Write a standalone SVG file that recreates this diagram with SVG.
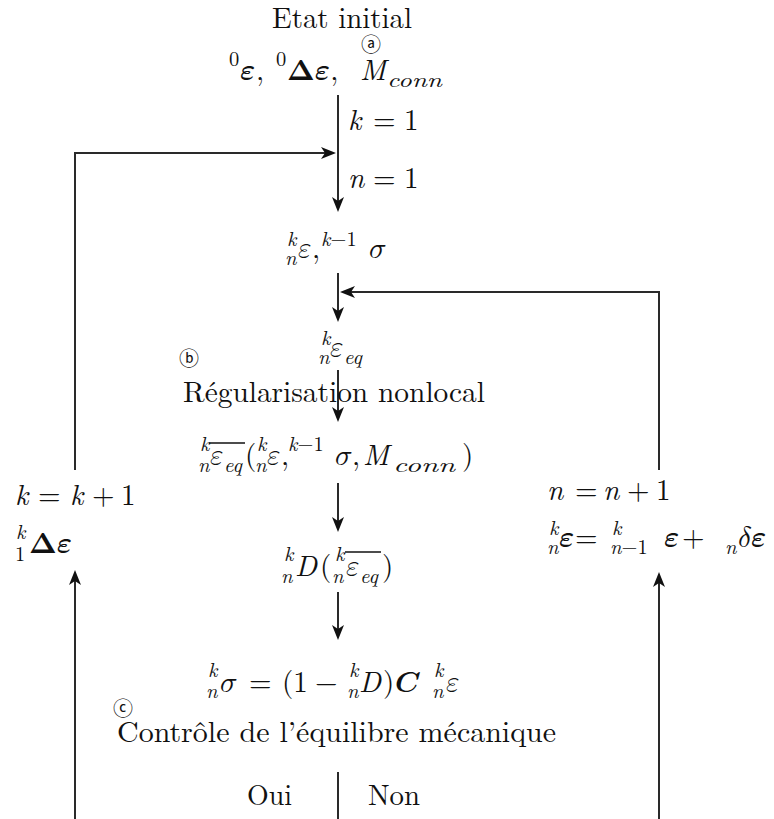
<svg xmlns="http://www.w3.org/2000/svg" width="774" height="819" viewBox="0 0 774 819">
<style>
.u,.m,.s,.us{font-family:"Latin Modern Roman","CMU Serif","Liberation Serif","Tinos","Times New Roman","Nimbus Roman",serif;fill:#111}
.u{font-size:29px;font-style:normal}
.m{font-size:29px;font-style:italic}
.s{font-size:20.5px;font-style:italic}
.us{font-size:20.5px;font-style:normal}
.g,.gb{font-family:"Latin Modern Math","STIX Two Math","Cambria Math","DejaVu Serif",serif;font-size:29px;font-style:normal;fill:#111}
.c{font-family:"DejaVu Sans","Noto Sans CJK JP",sans-serif;font-size:20px;text-anchor:middle;fill:#111}
.ln{stroke:#2a2a2a;stroke-width:2;fill:none}
.arr{marker-end:url(#ah)}
.ov{stroke:#111;stroke-width:1.4}
</style>
<defs>
<marker id="ah" markerUnits="userSpaceOnUse" viewBox="-15 -6 15 12" refX="-4" refY="0" markerWidth="15" markerHeight="12" orient="auto">
<path d="M0,0 L-15,-6 L-11,0 L-15,6 Z" fill="#111"/>
</marker>
</defs>

<g id="connectors">
<path class="ln arr" d="M338,95 V208"/>
<path class="ln arr" d="M75,470 V153 H332"/>
<path class="ln arr" d="M338,273 V318"/>
<path class="ln arr" d="M659,470 V292 H344"/>
<path class="ln arr" d="M338,370 V418"/>
<path class="ln arr" d="M338,483 V528"/>
<path class="ln arr" d="M338,592 V636"/>
<path class="ln" d="M338,772 V819"/>
<path class="ln arr" d="M75,819 V574"/>
<path class="ln arr" d="M659,819 V576"/>
</g>

<g id="n-init">
<text class="u" x="272" y="28" textLength="140" lengthAdjust="spacingAndGlyphs">Etat initial</text>
<text class="c" x="371" y="52">ⓐ</text>
<text class="us" x="229" y="66">0</text>
<text class="gb" x="240" y="80">𝜺</text>
<text class="u" x="256" y="80">,</text>
<text class="us" x="276" y="66">0</text>
<text class="gb" x="287" y="80">𝚫𝜺<tspan class="u">,</tspan></text>
<text class="m" x="360" y="80">M</text>
<text class="s" x="387" y="87" textLength="55" lengthAdjust="spacingAndGlyphs">conn</text>
</g>

<g id="n-k1">
<text class="m" x="348" y="130">k</text>
<text class="u" x="373" y="130">=</text>
<text class="u" x="404" y="130">1</text>
</g>
<g id="n-n1">
<text class="m" x="348" y="188">n</text>
<text class="u" x="373" y="188">=</text>
<text class="u" x="404" y="188">1</text>
</g>

<g id="n-eps">
<text class="s" x="287" y="246">k</text>
<text class="s" x="285" y="265">n</text>
<text class="g" x="298" y="258">𝜀</text>
<text class="u" x="312" y="258">,</text>
<text class="s" x="321" y="246">k<tspan class="us">−1</tspan></text>
<text class="g" x="369" y="258">𝜎</text>
</g>

<g id="n-epseq">
<text class="s" x="321" y="345">k</text>
<text class="s" x="318" y="364">n</text>
<text class="g" x="330" y="357">𝜀</text>
<text class="s" x="344" y="364">eq</text>
</g>

<g id="n-reg">
<text class="c" x="189" y="366">ⓑ</text>
<text class="u" x="183" y="402" textLength="302" lengthAdjust="spacingAndGlyphs">Régularisation nonlocal</text>
</g>

<g id="n-nonlocal">
<text class="s" x="200" y="451">k</text>
<text class="s" x="198" y="472">n</text>
<text class="g" x="210" y="465">𝜀</text>
<text class="s" x="224" y="472">eq</text>
<line class="ov" x1="209" y1="443" x2="245" y2="443"/>
<text class="u" x="245" y="465">(</text>
<text class="s" x="257" y="451">k</text>
<text class="s" x="255" y="472">n</text>
<text class="g" x="267" y="465">𝜀</text>
<text class="u" x="281" y="465">,</text>
<text class="s" x="288" y="451">k<tspan class="us">−1</tspan></text>
<text class="g" x="335" y="465">𝜎</text>
<text class="u" x="352" y="465">,</text>
<text class="m" x="363" y="465">M</text>
<text class="s" x="393" y="472" textLength="62" lengthAdjust="spacingAndGlyphs">conn</text>
<text class="u" x="462" y="465">)</text>
</g>

<g id="n-D">
<text class="s" x="284" y="561">k</text>
<text class="s" x="281" y="583">n</text>
<text class="m" x="295" y="576">D</text>
<text class="u" x="320" y="576">(</text>
<text class="s" x="335" y="561">k</text>
<text class="s" x="332" y="583">n</text>
<text class="g" x="346" y="576">𝜀</text>
<text class="s" x="360" y="583">eq</text>
<line class="ov" x1="345" y1="552" x2="381" y2="552"/>
<text class="u" x="382" y="576">)</text>
</g>

<g id="n-sigma">
<text class="s" x="208" y="677">k</text>
<text class="s" x="206" y="698">n</text>
<text class="g" x="220" y="692">𝜎</text>
<text class="u" x="249" y="692">=</text>
<text class="u" x="282" y="692">(1</text>
<text class="u" x="315" y="692">−</text>
<text class="s" x="349" y="677">k</text>
<text class="s" x="347" y="698">n</text>
<text class="m" x="359" y="692">D</text>
<text class="u" x="383" y="692">)</text>
<text class="gb" x="395" y="692">𝑪</text>
<text class="s" x="434" y="677">k</text>
<text class="s" x="432" y="698">n</text>
<text class="g" x="446" y="692">𝜀</text>
</g>

<g id="n-ctrl">
<text class="c" x="123" y="716">ⓒ</text>
<text class="u" x="117" y="742" textLength="439" lengthAdjust="spacingAndGlyphs">Contrôle de l’équilibre mécanique</text>
</g>

<g id="n-oui"><text class="u" x="247" y="805" textLength="45" lengthAdjust="spacingAndGlyphs">Oui</text></g>
<g id="n-non"><text class="u" x="368" y="805" textLength="52" lengthAdjust="spacingAndGlyphs">Non</text></g>

<g id="n-kinc">
<text class="m" x="15" y="505">k</text>
<text class="u" x="38" y="505">=</text>
<text class="m" x="70" y="505">k</text>
<text class="u" x="92" y="505">+</text>
<text class="u" x="121" y="505">1</text>
<text class="s" x="16" y="539">k</text>
<text class="us" x="15" y="561">1</text>
<text class="gb" x="29" y="553">𝚫𝜺</text>
</g>

<g id="n-ninc">
<text class="m" x="547" y="500">n</text>
<text class="u" x="575" y="500">=</text>
<text class="m" x="603" y="500">n</text>
<text class="u" x="627" y="500">+</text>
<text class="u" x="656" y="500">1</text>
<text class="s" x="549" y="535">k</text>
<text class="s" x="547" y="554">n</text>
<text class="gb" x="559" y="547">𝜺</text>
<text class="u" x="575" y="547">=</text>
<text class="s" x="612" y="535">k</text>
<text class="s" x="610" y="554">n<tspan class="us">−1</tspan></text>
<text class="gb" x="664" y="547">𝜺</text>
<text class="u" x="682" y="547">+</text>
<text class="s" x="725" y="554">n</text>
<text class="g" x="738" y="547">𝛿<tspan class="gb">𝜺</tspan></text>
</g>
</svg>
